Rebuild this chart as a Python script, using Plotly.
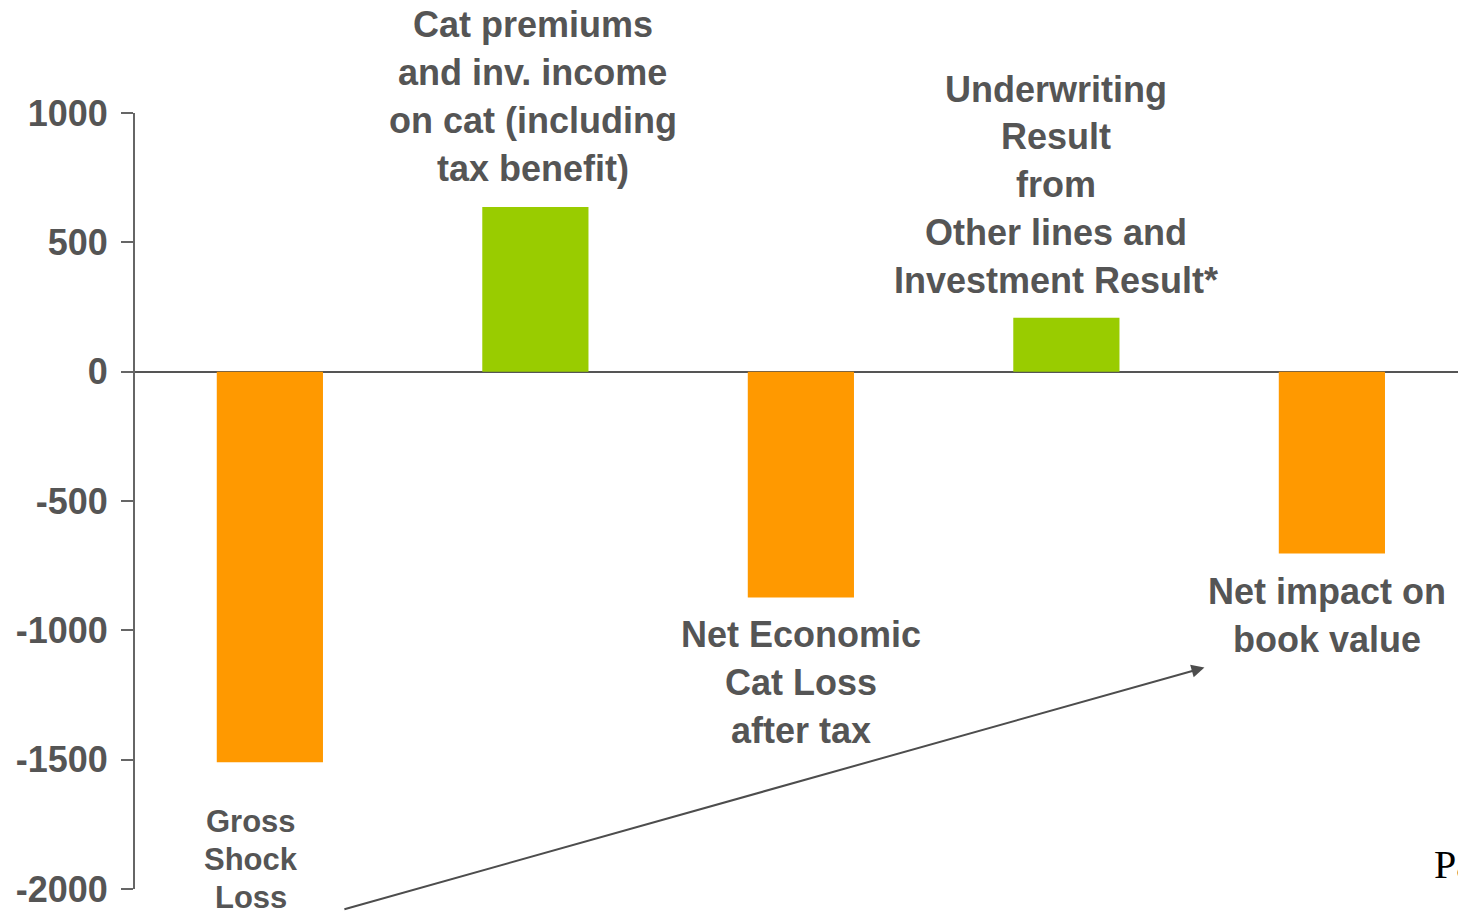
import plotly.graph_objects as go

# Bar data (values in millions)
categories = [
    "Gross<br>Shock<br>Loss",
    "Cat premiums<br>and inv. income<br>on cat (including<br>tax benefit)",
    "Net Economic<br>Cat Loss<br>after tax",
    "Underwriting<br>Result<br>from<br>Other lines and<br>Investment Result*",
    "Net impact on<br>book value",
]
values = [-1510, 637, -873, 208, -703]
bar_colors = ["#FF9900", "#99CC00", "#FF9900", "#99CC00", "#FF9900"]
y_ticks = [1000, 500, 0, -500, -1000, -1500, -2000]

TEXT = "#555555"
FONT = "Liberation Sans, Arial, sans-serif"

W, H = 1458, 913
M_L, M_T, M_B = 135, 113, 24
plot_h = H - M_T - M_B

x_idx = list(range(len(categories)))

fig = go.Figure(go.Bar(
    x=x_idx, y=values, marker_color=bar_colors, width=0.4,
    marker_line_width=0, showlegend=False, hoverinfo="skip",
))


def py_to_paper(py):
    return 1 - (py - M_T) / plot_h


# Label layout per category: (first line centre in px, line step in px, font size, x offset)
label_layout = [
    (821, 38, 31, -0.07),
    (25, 48, 36, -0.01),
    (634, 48, 36, 0.0),
    (89, 47.8, 36, -0.04),
    (591, 48, 36, -0.02),
]

annotations = []
for i, (cat, (y0, step, fs, dx)) in enumerate(zip(categories, label_layout)):
    for j, line in enumerate(cat.split("<br>")):
        annotations.append(dict(
            x=i + dx, xref="x", y=py_to_paper(y0 + j * step), yref="paper",
            text=line, showarrow=False, xanchor="center", yanchor="middle",
            font=dict(family=FONT, size=fs, color=TEXT, weight="bold"),
        ))

# Arrow pointing from the gross loss towards the net impact
annotations.append(dict(
    x=3.52, y=-1144, xref="x", yref="y",
    ax=0.275, ay=-2080, axref="x", ayref="y",
    showarrow=True, arrowhead=2, arrowsize=1.3, arrowwidth=2,
    arrowcolor="#4d4d4d", text="",
))

# Page footer text, partly outside the canvas
annotations.append(dict(
    x=(1432 - M_L) / (W - M_L), xref="paper", y=py_to_paper(864), yref="paper",
    text="Pa", showarrow=False, xanchor="left", yanchor="middle",
    font=dict(family="Liberation Serif, Times New Roman, serif", size=40, color="#000000"),
))

fig.update_layout(
    width=W, height=H,
    margin=dict(l=M_L, r=0, t=M_T, b=M_B, pad=0),
    paper_bgcolor="white", plot_bgcolor="white",
    bargap=0.6,
    annotations=annotations,
    xaxis=dict(
        range=[-0.508, 4.475], showticklabels=False, showgrid=False,
        zeroline=False, showline=False, ticks="",
    ),
    yaxis=dict(
        range=[-2000, 1000], tickvals=y_ticks, ticktext=[str(v) for v in y_ticks],
        showgrid=False, showline=True, linecolor="#666666", linewidth=2,
        ticks="outside", ticklen=12, tickwidth=2, tickcolor="#666666",
        tickfont=dict(family=FONT, size=36, color=TEXT, weight="bold"),
        zeroline=True, zerolinecolor="#555555", zerolinewidth=2,
        ticklabelstandoff=6,
    ),
)

fig.write_html("out.html")
